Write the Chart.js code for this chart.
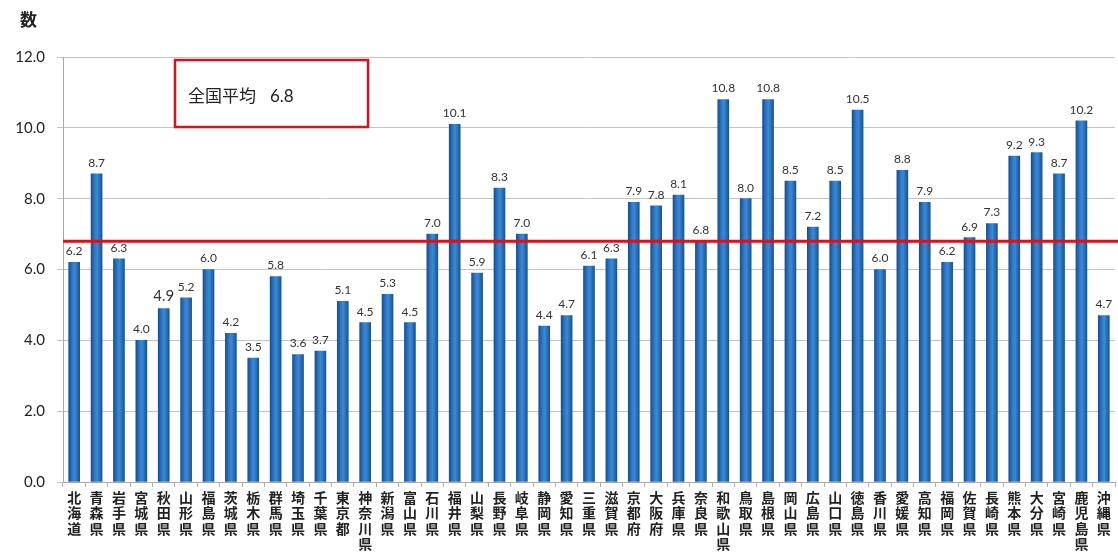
<!DOCTYPE html>
<html lang="ja">
<head>
<meta charset="utf-8">
<title>都道府県別 数</title>
<script src="https://cdn.jsdelivr.net/npm/chart.js@4"></script>
<style>
  html, body { margin: 0; padding: 0; background: #ffffff; }
  #wrap { position: relative; width: 1118px; height: 560px; }
</style>
</head>
<body>
<div id="wrap"><canvas id="chart" width="1118" height="560"></canvas></div>
<script>
// Prefectures (each name split into stacked characters for vertical labels)
const prefectures = [
  '北海道','青森県','岩手県','宮城県','秋田県','山形県','福島県','茨城県','栃木県','群馬県',
  '埼玉県','千葉県','東京都','神奈川県','新潟県','富山県','石川県','福井県','山梨県','長野県',
  '岐阜県','静岡県','愛知県','三重県','滋賀県','京都府','大阪府','兵庫県','奈良県','和歌山県',
  '鳥取県','島根県','岡山県','広島県','山口県','徳島県','香川県','愛媛県','高知県','福岡県',
  '佐賀県','長崎県','熊本県','大分県','宮崎県','鹿児島県','沖縄県'
];

// Value per prefecture
const values = [
  6.2, 8.7, 6.3, 4.0, 4.9, 5.2, 6.0, 4.2, 3.5, 5.8,
  3.6, 3.7, 5.1, 4.5, 5.3, 4.5, 7.0, 10.1, 5.9, 8.3,
  7.0, 4.4, 4.7, 6.1, 6.3, 7.9, 7.8, 8.1, 6.8, 10.8,
  8.0, 10.8, 8.5, 7.2, 8.5, 10.5, 6.0, 8.8, 7.9, 6.2,
  6.9, 7.3, 9.2, 9.3, 8.7, 10.2, 4.7
];

// National average
const nationalAverage = 6.8;
const averageLabel = '全国平均';
const axisUnit = '数';

// Y axis range and tick step
const yMin = 0;
const yMax = 12;
const yStep = 2;

const jpFont = '"Noto Sans CJK JP", "Noto Sans", sans-serif';
const numFont = 'Lato, "Open Sans", "Liberation Sans", sans-serif';

const BAR_W = 11;

// Cylinder-like shading across each bar
function barFill(ctx) {
  const chart = ctx.chart;
  const xs = chart.scales && chart.scales.x;
  if (!xs || ctx.dataIndex === undefined) return '#1f63ad';
  const cx = xs.getPixelForValue(ctx.dataIndex);
  if (!isFinite(cx)) return '#1f63ad';
  const g = chart.ctx.createLinearGradient(cx - BAR_W / 2, 0, cx + BAR_W / 2, 0);
  g.addColorStop(0.0, '#174f93');
  g.addColorStop(0.35, '#2f7bc9');
  g.addColorStop(0.55, '#3b89d6');
  g.addColorStop(1.0, '#185493');
  return g;
}

// Value labels above bars
const valueLabels = {
  id: 'valueLabels',
  afterDatasetsDraw(chart) {
    const c = chart.ctx;
    const meta = chart.getDatasetMeta(0);
    c.save();
    c.fillStyle = '#333333';
    c.textAlign = 'center';
    c.textBaseline = 'bottom';
    meta.data.forEach((bar, i) => {
      const big = prefectures[i] === '秋田県';
      c.font = (big ? '15px ' : '12px ') + numFont;
      c.fillText(values[i].toFixed(1), bar.x, bar.y - 5);
    });
    c.restore();
  }
};

// Average line, unit label and average box
const averageDecor = {
  id: 'averageDecor',
  afterDatasetsDraw(chart) {
    const c = chart.ctx;
    const area = chart.chartArea;
    const y = chart.scales.y.getPixelForValue(nationalAverage);
    c.save();
    c.strokeStyle = '#d8121c';
    c.lineWidth = 3;
    c.beginPath();
    c.moveTo(area.left, y);
    c.lineTo(chart.width, y);
    c.stroke();
    c.restore();
  },
  afterDraw(chart) {
    const c = chart.ctx;
    const area = chart.chartArea;
    c.save();
    // unit label
    c.fillStyle = '#222222';
    c.font = 'bold 17px ' + jpFont;
    c.textAlign = 'left';
    c.textBaseline = 'middle';
    c.fillText(axisUnit, 20, 20);
    // average box
    const bx = area.left + 112, by = area.top + 3, bw = 193, bh = 67;
    c.fillStyle = '#ffffff';
    c.fillRect(bx, by, bw, bh);
    c.strokeStyle = '#d8121c';
    c.lineWidth = 2.5;
    c.strokeRect(bx, by, bw, bh);
    c.fillStyle = '#222222';
    c.font = '17px ' + jpFont;
    c.textBaseline = 'middle';
    c.fillText(averageLabel, bx + 13, by + 36);
    const w = c.measureText(averageLabel).width;
    c.font = '17px ' + numFont;
    c.fillText(nationalAverage.toFixed(1), bx + 13 + w + 14, by + 37);
    c.restore();
  }
};

const chart = new Chart(document.getElementById('chart'), {
  type: 'bar',
  data: {
    labels: prefectures.map(p => p.split('')),
    datasets: [{
      data: values,
      backgroundColor: barFill,
      borderWidth: 0,
      barThickness: BAR_W
    }]
  },
  options: {
    responsive: false,
    animation: false,
    devicePixelRatio: 1,
    layout: { padding: { top: 57, right: 3, left: 0, bottom: 0 } },
    plugins: {
      legend: { display: false },
      tooltip: { enabled: false }
    },
    scales: {
      x: {
        offset: true,
        afterFit(scale) { scale.height = 78; },
        grid: {
          display: true,
          drawOnChartArea: false,
          offset: true,
          color: '#b0b0b0',
          tickLength: 5
        },
        border: { display: true, color: '#a8a8a8', width: 1 },
        ticks: {
          autoSkip: false,
          maxRotation: 0,
          minRotation: 0,
          padding: 3,
          color: '#222222',
          font: { family: jpFont, size: 14, weight: 'bold', lineHeight: 1.1 }
        }
      },
      y: {
        min: yMin,
        max: yMax,
        afterFit(scale) { scale.width = 63; },
        grid: {
          color: '#c4c4c4',
          lineWidth: 1,
          tickLength: 6
        },
        border: { display: true, color: '#a8a8a8', width: 1 },
        ticks: {
          stepSize: yStep,
          padding: 12,
          color: '#222222',
          font: { family: numFont, size: 15 },
          callback: v => Number(v).toFixed(1)
        }
      }
    }
  },
  plugins: [valueLabels, averageDecor]
});
// re-resolve bar fills once the scales have their final pixel ranges
chart.update('none');
</script>
</body>
</html>
